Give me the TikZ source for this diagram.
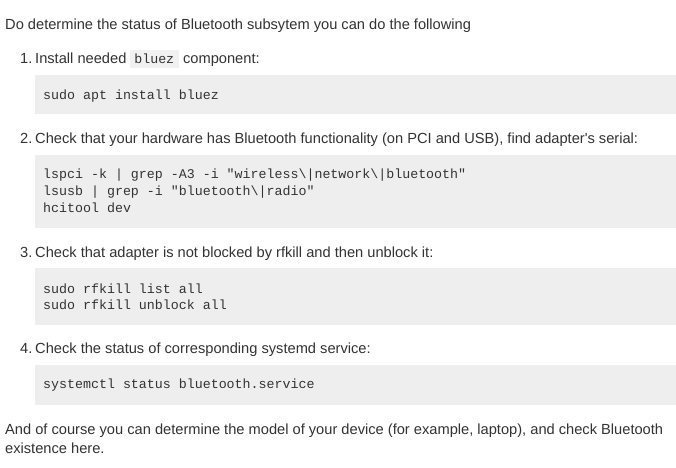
\documentclass[tikz,border=0pt]{standalone}
\usepackage{fontspec}
\setmainfont{Liberation Sans}
\setmonofont{Liberation Mono}
\definecolor{bodytext}{HTML}{333333}
\definecolor{codebg}{HTML}{EEEEEE}
\definecolor{inlinebg}{HTML}{F1F1F1}
\begin{document}
\begin{tikzpicture}[x=1pt,y=-1pt]
			\tikzset{body text/.style={anchor=base west,inner sep=0pt,text=bodytext,font=\fontsize{14.65}{17}\selectfont},
				code text/.style={anchor=base west,inner sep=0pt,text=bodytext,font=\ttfamily\fontsize{13.3}{16}\selectfont},
				inline code/.style={anchor=base west,fill=inlinebg,text=bodytext,font=\ttfamily\fontsize{13.3}{16}\selectfont,
					inner xsep=4.5pt,inner ysep=2pt,text height=11.5pt,text depth=2.5pt},
				code box/.style={fill=codebg}}
			\useasboundingbox[fill=white] (0,0) rectangle (676,467);
			% intro
			\node [body text] (intro) at (5,29) {Do determine the status of Bluetooth subsytem you can do the following};
			% step 1
			\node [body text] (num1) at (20,63.5) {1.};
			\node [body text] (step1a) at (35,63.5) {Install needed};
			\node [inline code] (inline1) at ([xshift=3pt]step1a.base east) {bluez};
			\node [body text] (step1b) at ([xshift=4pt]inline1.base east) {component:};
			\fill [code box] (35,75) rectangle (676,114);
			\node [code text] (code1) at (43,99.5) {sudo apt install bluez};
			% step 2
			\node [body text] (num2) at (20,143) {2.};
			\node [body text] (step2) at (35,143) {Check that your hardware has Bluetooth functionality (on PCI and USB), find adapter\textquotesingle s serial:};
			\fill [code box] (35,155) rectangle (676,228);
			\node [code text] (code2a) at (43,178) {lspci -k | grep -A3 -i "wireless\textbackslash|network\textbackslash|bluetooth"};
			\node [code text] (code2b) at (43,195) {lsusb | grep -i "bluetooth\textbackslash|radio"};
			\node [code text] (code2c) at (43,212) {hcitool dev};
			% step 3
			\node [body text] (num3) at (20,257) {3.};
			\node [body text] (step3) at (35,257) {Check that adapter is not blocked by rfkill and then unblock it:};
			\fill [code box] (35,268) rectangle (676,325);
			\node [code text] (code3a) at (43,293) {sudo rfkill list all};
			\node [code text] (code3b) at (43,309.5) {sudo rfkill unblock all};
			% step 4
			\node [body text] (num4) at (20,353) {4.};
			\node [body text] (step4) at (35,353) {Check the status of corresponding systemd service:};
			\fill [code box] (35,365) rectangle (676,405);
			\node [code text] (code4) at (43,388) {systemctl status bluetooth.service};
			% closing
			\node [body text] (outro1) at (5,434) {And of course you can determine the model of your device (for example, laptop), and check Bluetooth};
			\node [body text] (outro2) at (5,453) {existence here.};
		\end{tikzpicture}
\end{document}
